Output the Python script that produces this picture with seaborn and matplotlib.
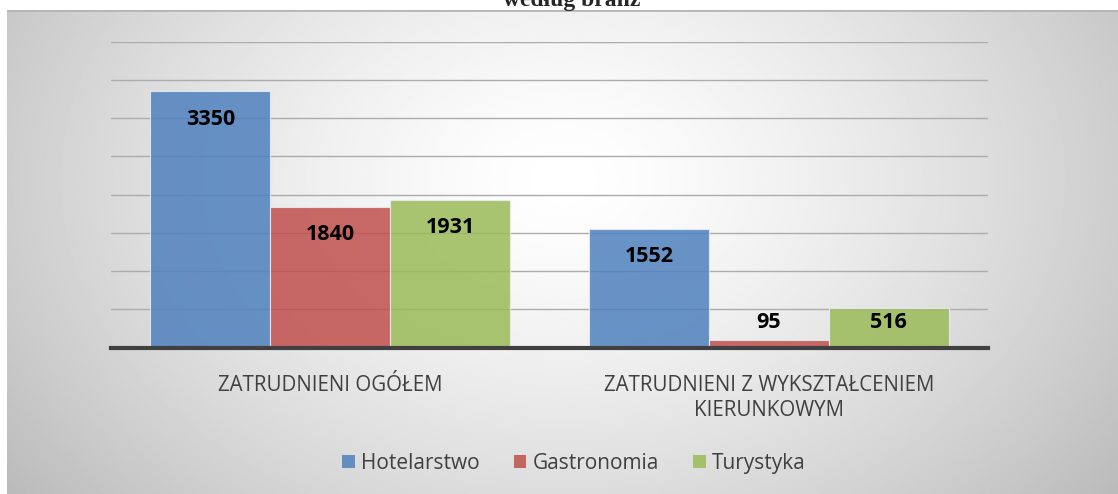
import numpy as np
import pandas as pd
import matplotlib
matplotlib.use("Agg")
import matplotlib.pyplot as plt
import seaborn as sns
from matplotlib.patches import Patch

categories = ["ZATRUDNIENI OGÓŁEM", "ZATRUDNIENI Z WYKSZTAŁCENIEM\nKIERUNKOWYM"]
series = ["Hotelarstwo", "Gastronomia", "Turystyka"]
hotelarstwo = [3350, 1552]
gastronomia = [1840, 95]
turystyka = [1931, 516]
colors = ["#4F81BD", "#C0504D", "#9BBB59"]

rows = []
for s, vals in zip(series, [hotelarstwo, gastronomia, turystyka]):
    for c, v in zip(categories, vals):
        rows.append({"cat": c, "series": s, "value": v})
df = pd.DataFrame(rows)

sns.set_theme(style="white")
plt.rcParams["font.family"] = ["Open Sans", "DejaVu Sans"]

W, H = 1118, 494
fig = plt.figure(figsize=(W / 100, H / 100), dpi=100)
fig.patch.set_facecolor("white")

# background panel with radial gradient
bg = fig.add_axes([7 / W, 0, 1 - 7 / W, 1 - 10 / H], zorder=0)
ny, nx = 300, 700
yy, xx = np.mgrid[0:ny, 0:nx]
cx, cy = nx * 0.50, ny * 0.35
r = np.sqrt(((xx - cx) / (nx * 0.60)) ** 2 + ((yy - cy) / (ny * 1.0)) ** 2)
val = 1.0 - 0.25 * np.clip(r, 0, 1.2) ** 1.4
bg.imshow(val, cmap="gray", vmin=0, vmax=1, aspect="auto", extent=[0, 1, 0, 1], origin="upper")
bg.set_xlim(0, 1)
bg.set_ylim(0, 1)
bg.axis("off")
bg.axhline(0.999, color="#b5b5b5", lw=2)

ax = fig.add_axes([111 / W, 1 - 347.7 / H, (988 - 111) / W, (347.7 - 41.7) / H], zorder=1)
ax.patch.set_alpha(0)
sns.barplot(data=df, x="cat", y="value", hue="series", palette=colors, width=0.82,
            saturation=1, alpha=0.85, edgecolor="#e8eef6", linewidth=0.8, legend=False,
            ax=ax, zorder=3)
ax.set_ylim(0, 4000)
ax.set_yticks(np.arange(0, 4001, 500))
ax.yaxis.grid(True, color="#acacac", lw=1.0, zorder=1)
ax.set_axisbelow(True)
for s in ["top", "right", "left"]:
    ax.spines[s].set_visible(False)
ax.spines["bottom"].set_color("#404040")
ax.spines["bottom"].set_linewidth(3)
ax.spines["bottom"].set_zorder(5)
ax.tick_params(axis="y", left=False, labelleft=False)
ax.tick_params(axis="x", bottom=False, pad=14)
ax.set_xlabel("")
ax.set_ylabel("")
ax.set_xticks([0, 1])
ax.set_xticklabels(categories, fontsize=14.8, color="#404040", linespacing=1.2, va="top")

# data labels: inside end, clamped above baseline
upp = 4000 / (347.7 - 41.7)  # data units per pixel
for cont in ax.containers:
    for bar in cont:
        v = bar.get_height()
        xc = bar.get_x() + bar.get_width() / 2
        y = max(v - 28 * upp, 25 * upp)
        ax.text(xc, y, f"{int(round(v))}", ha="center", va="center", fontsize=15.5,
                fontweight="bold", color="black", zorder=6)

handles = [Patch(facecolor=c, alpha=0.85, edgecolor="none") for c in colors]
fig.legend(handles, series, loc="center", bbox_to_anchor=(574 / W, 1 - 463 / H), ncol=3,
           frameon=False, fontsize=15, handlelength=0.6, handleheight=0.6,
           handletextpad=0.3, columnspacing=1.65, labelcolor="#404040")

fig.text(572 / W, 1 - 6 / H, "według branż", ha="center", va="baseline",
         fontsize=17, fontweight="bold", family=["Liberation Serif", "DejaVu Serif"], zorder=10)

fig.savefig("out.png", dpi=100)
